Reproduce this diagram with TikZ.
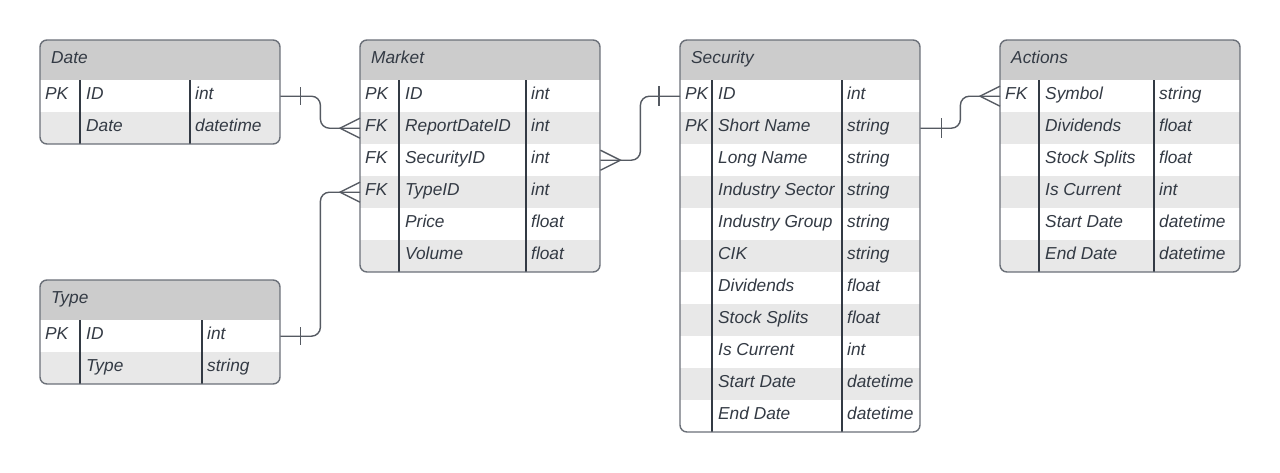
\documentclass[tikz,border=0pt]{standalone}
\usepackage{fontspec}
\setmainfont{Liberation Sans}
\definecolor{ln}{HTML}{6B7078}
\definecolor{hd}{HTML}{CCCCCC}
\definecolor{alt}{HTML}{E8E8E8}
\definecolor{tx}{HTML}{333A44}
\definecolor{conn}{HTML}{555A62}
\tikzset{
  cell/.style={anchor=base west, inner sep=0pt, font=\fontsize{17.3}{20}\selectfont\itshape, text=tx},
  hdbox/.style={anchor=north west, inner sep=0pt, minimum height=40pt, fill=hd, draw=none},
  rowbox/.style={anchor=north west, inner sep=0pt, minimum height=32pt, draw=none},
  frame/.style={draw=ln, line width=1.4pt, rounded corners=7pt},
  divider/.style={draw=tx, line width=1.1pt},
  link/.style={draw=conn, line width=1.4pt, rounded corners=9pt},
  crow/.style={draw=conn, line width=1.4pt},
}
\newcommand\ertab[9]{%
  \pgfmathsetmacro\tabh{40+32*#7}%
  \begin{scope}
    \clip[rounded corners=7pt] (#2,#3) rectangle ++(#4,\tabh);
    \node[hdbox, minimum width=#4pt] (#1-h) at (#2,#3) {};
    \foreach \k/\n/\t [count=\i] in {#9}{%
      \ifodd\i\def\rc{white}\else\def\rc{alt}\fi
      \node[rowbox, minimum width=#4pt, fill=\rc] (#1-\i) at ({#2},{#3+8+32*\i}) {};
    }
  \end{scope}
  \node[cell] (#1-t) at ({#2+11},{#3+23}) {#8};
  \foreach \k/\n/\t [count=\i] in {#9}{%
    \node[cell] (#1-\i-k) at ({#2+5},{#3+27.5+32*\i}) {\k};
    \node[cell] (#1-\i-n) at ({#2+#5+6},{#3+27.5+32*\i}) {\n};
    \node[cell] (#1-\i-y) at ({#2+#6+5},{#3+27.5+32*\i}) {\t};
  }
  \draw[divider] ({#2+#5},{#3+40}) -- ({#2+#5},{#3+\tabh});
  \draw[divider] ({#2+#6},{#3+40}) -- ({#2+#6},{#3+\tabh});
  \draw[frame] (#2,#3) rectangle ++(#4,\tabh);
}
\begin{document}
\begin{tikzpicture}[x=1pt,y=-1pt]
\useasboundingbox[fill=white] (0,0) rectangle (1280,472);
\ertab{date}{40}{40}{240}{40}{150}{2}{Date}{PK/ID/int,\relax/Date/datetime}
\ertab{type}{40}{280}{240}{40}{162}{2}{Type}{PK/ID/int,\relax/Type/string}
\ertab{market}{360}{40}{240}{39}{166}{6}{Market}{PK/ID/int,FK/ReportDateID/int,FK/SecurityID/int,FK/TypeID/int,\relax/Price/float,\relax/Volume/float}
\ertab{security}{680}{40}{240}{32}{162}{11}{Security}{PK/ID/int,PK/Short Name/string,\relax/Long Name/string,\relax/Industry Sector/string,\relax/Industry Group/string,\relax/CIK/string,\relax/Dividends/float,\relax/Stock Splits/float,\relax/Is Current/int,\relax/Start Date/datetime,\relax/End Date/datetime}
\ertab{actions}{1000}{40}{240}{39}{154}{6}{Actions}{FK/Symbol/string,\relax/Dividends/float,\relax/Stock Splits/float,\relax/Is Current/int,\relax/Start Date/datetime,\relax/End Date/datetime}
% Date -> Market
\draw[link] (date-1.east) -- ++(40,0) |- (market-2.west);
\draw[crow] (date-1.east) ++(20,-9) -- ++(0,18);
\draw[crow] (market-2.west) ++(0,-10) -- ++(-20,10) -- ++(20,10);
% Type -> Market
\draw[link] (type-1.east) -- ++(40,0) |- (market-4.west);
\draw[crow] (type-1.east) ++(20,-9) -- ++(0,18);
\draw[crow] (market-4.west) ++(0,-10) -- ++(-20,10) -- ++(20,10);
% Market -> Security
\draw[link] (market-3.east) -- ++(40,0) |- (security-1.west);
\draw[crow] (market-3.east) ++(0,-10) -- ++(20,10) -- ++(-20,10);
\draw[crow] (security-1.west) ++(-21,-10) -- ++(0,20);
% Security -> Actions
\draw[link] (security-2.east) -- ++(40,0) |- (actions-1.west);
\draw[crow] (security-2.east) ++(21,-10) -- ++(0,20);
\draw[crow] (actions-1.west) ++(0,-10) -- ++(-20,10) -- ++(20,10);
\end{tikzpicture}
\end{document}
